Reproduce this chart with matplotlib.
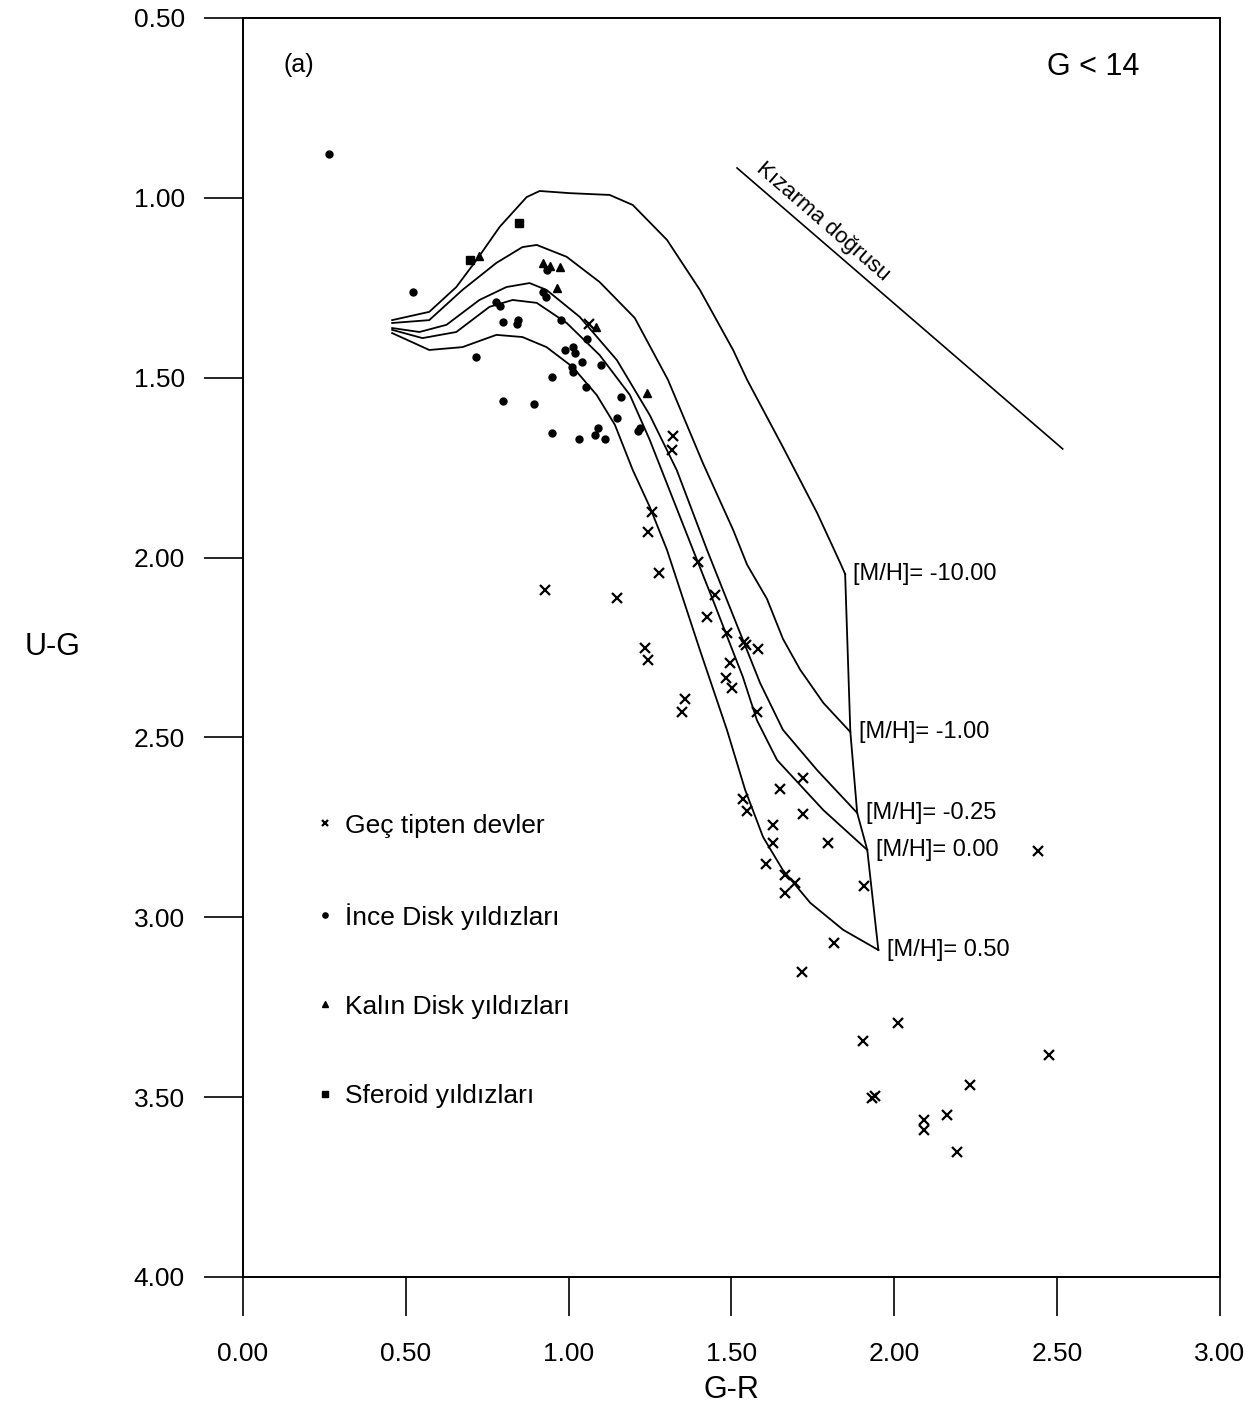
import matplotlib.pyplot as plt

plt.rcParams['font.family'] = ['Liberation Sans', 'DejaVu Sans']

# model curves, one per metallicity (G-R, U-G)
mh_labels = ['[M/H]= -10.00', '[M/H]= -1.00', '[M/H]= -0.25', '[M/H]= 0.00', '[M/H]= 0.50']

gr_m10 = [0.458, 0.572, 0.655, 0.717, 0.788, 0.871, 0.911, 1.003, 1.126, 1.197, 1.302,
          1.403, 1.505, 1.548, 1.658, 1.763, 1.834, 1.849]
ug_m10 = [1.340, 1.317, 1.248, 1.173, 1.081, 0.998, 0.981, 0.987, 0.992, 1.020, 1.117,
          1.256, 1.423, 1.506, 1.693, 1.876, 2.015, 2.046]

gr_m1 = [0.458, 0.572, 0.674, 0.778, 0.858, 0.902, 0.994, 1.095, 1.203, 1.305, 1.412,
         1.505, 1.548, 1.609, 1.658, 1.711, 1.782, 1.865]
ug_m1 = [1.348, 1.340, 1.256, 1.181, 1.137, 1.131, 1.164, 1.234, 1.334, 1.506, 1.737,
         1.923, 2.020, 2.115, 2.226, 2.312, 2.404, 2.485]

gr_m025 = [0.458, 0.542, 0.625, 0.726, 0.809, 0.880, 0.932, 1.034, 1.148, 1.249, 1.332,
           1.425, 1.486, 1.588, 1.658, 1.763, 1.886]
ug_m025 = [1.362, 1.373, 1.353, 1.284, 1.248, 1.237, 1.256, 1.331, 1.451, 1.604, 1.757,
           1.979, 2.118, 2.349, 2.479, 2.591, 2.710]

gr_0 = [0.458, 0.551, 0.655, 0.757, 0.828, 0.902, 0.994, 1.095, 1.188, 1.249, 1.382,
        1.443, 1.535, 1.578, 1.640, 1.782, 1.917]
ug_0 = [1.367, 1.390, 1.373, 1.303, 1.284, 1.292, 1.348, 1.437, 1.548, 1.673, 1.979,
        2.118, 2.332, 2.452, 2.563, 2.702, 2.813]

gr_p05 = [0.458, 0.572, 0.674, 0.778, 0.858, 0.932, 1.012, 1.086, 1.142, 1.197, 1.249,
          1.302, 1.403, 1.486, 1.542, 1.597, 1.658, 1.742, 1.843, 1.951]
ug_p05 = [1.376, 1.423, 1.415, 1.381, 1.387, 1.415, 1.470, 1.548, 1.631, 1.757, 1.859,
          1.979, 2.257, 2.479, 2.646, 2.777, 2.869, 2.960, 3.035, 3.091]

curves = [(gr_m10, ug_m10), (gr_m1, ug_m1), (gr_m025, ug_m025), (gr_0, ug_0), (gr_p05, ug_p05)]

# reddening line
red_gr = [1.517, 2.517]
red_ug = [0.917, 1.698]

# stars
giant_gr = [1.062, 1.320, 1.317, 1.255, 1.243, 1.277, 1.148, 0.926, 1.397, 1.449, 1.425,
            1.486, 1.538, 1.545, 1.582, 1.234, 1.243, 1.495, 1.483, 1.502, 1.357, 1.348,
            1.578, 1.720, 1.649, 1.535, 1.548, 1.720, 1.628, 1.797, 1.628, 1.606, 1.665,
            1.695, 1.665, 1.908, 2.440, 1.815, 1.717, 2.012, 1.905, 2.474, 2.231, 1.932,
            1.942, 2.163, 2.092, 2.092, 2.191]
giant_ug = [1.351, 1.662, 1.701, 1.873, 1.929, 2.043, 2.112, 2.090, 2.012, 2.104, 2.165,
            2.210, 2.235, 2.243, 2.254, 2.251, 2.285, 2.293, 2.335, 2.363, 2.393, 2.429,
            2.429, 2.613, 2.643, 2.671, 2.705, 2.713, 2.743, 2.794, 2.794, 2.852, 2.882,
            2.905, 2.933, 2.913, 2.816, 3.072, 3.152, 3.294, 3.344, 3.383, 3.466, 3.502,
            3.497, 3.550, 3.564, 3.591, 3.653]

thin_gr = [0.265, 0.523, 0.717, 0.778, 0.788, 0.797, 0.840, 0.846, 0.920, 0.929, 0.935,
           0.978, 0.988, 1.012, 1.018, 1.040, 1.055, 1.098, 1.009, 1.012, 0.948, 1.052,
           1.160, 0.797, 0.895, 1.148, 1.212, 1.218, 0.948, 1.031, 1.080, 1.089, 1.111]
thin_ug = [0.878, 1.262, 1.442, 1.290, 1.301, 1.345, 1.351, 1.340, 1.262, 1.276, 1.200,
           1.340, 1.423, 1.415, 1.431, 1.456, 1.392, 1.465, 1.470, 1.484, 1.498, 1.526,
           1.554, 1.565, 1.573, 1.612, 1.648, 1.640, 1.654, 1.670, 1.659, 1.640, 1.670]

thick_gr = [0.726, 0.920, 0.942, 0.972, 0.963, 1.083, 1.240]
thick_ug = [1.162, 1.181, 1.189, 1.192, 1.251, 1.359, 1.543]

sph_gr = [0.849, 0.698]
sph_ug = [1.070, 1.173]

fig = plt.figure(figsize=(12.59, 14.14), dpi=100)
ax = fig.add_axes([0.193, 0.0969, 0.776, 0.8904])

for gr, ug in curves:
    ax.plot(gr, ug, color='black', lw=1.3, solid_joinstyle='round')

# line joining the curve ends
end_gr = [c[0][-1] for c in curves]
end_ug = [c[1][-1] for c in curves]
ax.plot(end_gr, end_ug, color='black', lw=1.3)

for lab, gx, uy in zip(mh_labels, end_gr, end_ug):
    ax.annotate(lab, (gx, uy), xytext=(6, 0), textcoords='offset points',
                fontsize=17, ha='left', va='center')

ax.plot(red_gr, red_ug, color='black', lw=1.2)
ax.text(1.78, 1.065, 'Kızarma doğrusu', rotation=-41, rotation_mode='anchor',
        ha='center', va='center', fontsize=16)

ax.plot(giant_gr, giant_ug, 'x', color='black', ms=6.5, mew=1.6, ls='none',
        label='Geç tipten devler')
ax.plot(thin_gr, thin_ug, 'o', color='black', ms=5, ls='none',
        label='İnce Disk yıldızları')
ax.plot(thick_gr, thick_ug, '^', color='black', ms=6, ls='none',
        label='Kalın Disk yıldızları')
ax.plot(sph_gr, sph_ug, 's', color='black', ms=5.5, ls='none',
        label='Sferoid yıldızları')

ax.legend(loc='upper left', bbox_to_anchor=(0.076, 0.368), frameon=False, fontsize=19,
          labelspacing=2.47, handlelength=0.6, handletextpad=0.45, borderpad=0,
          borderaxespad=0, markerscale=0.75)

ax.text(0.17, 0.63, '(a)', fontsize=18, ha='center', va='center')
ax.text(2.61, 0.635, 'G < 14', fontsize=22, ha='center', va='center')

ax.set_xlim(0, 3)
ax.set_ylim(4.0, 0.5)
ax.set_xticks([0, 0.5, 1.0, 1.5, 2.0, 2.5, 3.0])
ax.set_yticks([0.5, 1.0, 1.5, 2.0, 2.5, 3.0, 3.5, 4.0])
ax.xaxis.set_major_formatter('{x:.2f}')
ax.yaxis.set_major_formatter('{x:.2f}')
ax.tick_params(direction='out', length=28, width=1.2, labelsize=19)
ax.tick_params(axis='x', pad=19)
ax.tick_params(axis='y', pad=14)
for s in ax.spines.values():
    s.set_linewidth(1.4)

ax.set_xlabel('G-R', fontsize=22)
ax.xaxis.set_label_coords(0.5, -0.078)
ax.set_ylabel('U-G', fontsize=22, rotation=0, ha='center', va='center')
ax.yaxis.set_label_coords(-0.195, 0.5)

fig.savefig('out.png', dpi=100)
